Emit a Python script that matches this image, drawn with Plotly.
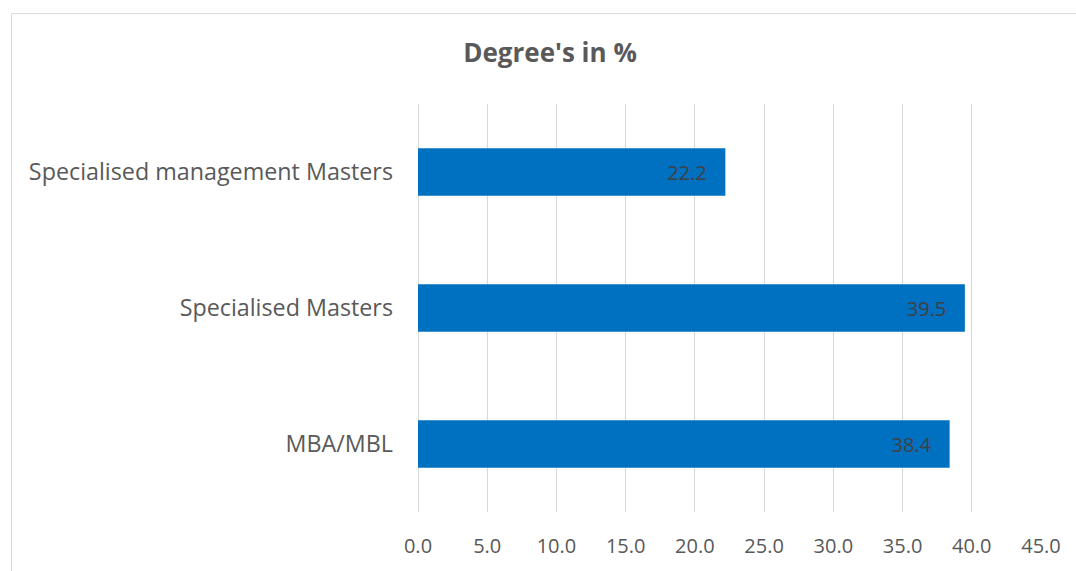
import plotly.graph_objects as go

# Data (bottom-to-top order as drawn)
categories = ["MBA/MBL", "Specialised Masters", "Specialised management Masters"]
values = [38.4, 39.5, 22.2]
x_ticks = [0, 5, 10, 15, 20, 25, 30, 35, 40, 45]
x_tick_labels = ["0.0", "5.0", "10.0", "15.0", "20.0", "25.0", "30.0", "35.0", "40.0", "45.0"]
title_text = "Degree's in %"

W, H = 1076, 571
L, R, T, B = 418, 1041, 104, 517  # plot area in pixels

NB = "\u00a0"

fig = go.Figure()
fig.add_trace(go.Bar(
    x=values,
    y=categories,
    orientation="h",
    marker=dict(color="#0070C0", line=dict(width=0)),
    texttemplate="%{x:.1f}" + NB * 3,
    textposition="inside",
    insidetextanchor="end",
    insidetextfont=dict(family="Open Sans", size=20, color="#404040"),
    hoverinfo="skip",
))

def px_to_paper_x(px):
    return (px - L) / (R - L)

def px_to_paper_y(py):
    return (B - py) / (B - T)

fig.update_layout(
    width=W, height=H,
    margin=dict(l=L, r=W - R, t=T, b=H - B, pad=0),
    paper_bgcolor="white",
    plot_bgcolor="white",
    showlegend=False,
    bargap=0.65,
    title=dict(
        text="<b>" + title_text + "</b>",
        font=dict(family="Open Sans", size=26, color="#595959"),
        x=550 / W, xref="container", xanchor="center",
        y=1 - 53 / H, yref="container", yanchor="middle",
    ),
    xaxis=dict(
        range=[0, 45],
        tickvals=x_ticks,
        ticktext=x_tick_labels,
        showgrid=True,
        gridcolor="#D9D9D9",
        gridwidth=1.3,
        zeroline=True,
        zerolinecolor="#D9D9D9",
        zerolinewidth=1.3,
        showline=False,
        ticks="",
        ticklabelstandoff=20,
        tickfont=dict(family="Open Sans", size=20, color="#595959"),
        fixedrange=True,
    ),
    yaxis=dict(
        categoryorder="array",
        categoryarray=categories,
        showgrid=False,
        zeroline=False,
        showline=False,
        ticks="",
        ticklabelstandoff=24,
        tickfont=dict(family="Open Sans", size=23.3, color="#595959"),
        fixedrange=True,
    ),
    shapes=[dict(
        type="rect",
        xref="paper", yref="paper",
        x0=px_to_paper_x(11.5), x1=px_to_paper_x(1200),
        y0=px_to_paper_y(700), y1=px_to_paper_y(12.5),
        line=dict(color="#D9D9D9", width=1),
        fillcolor="rgba(0,0,0,0)",
        layer="below",
    )],
)

fig.write_html("out.html")
